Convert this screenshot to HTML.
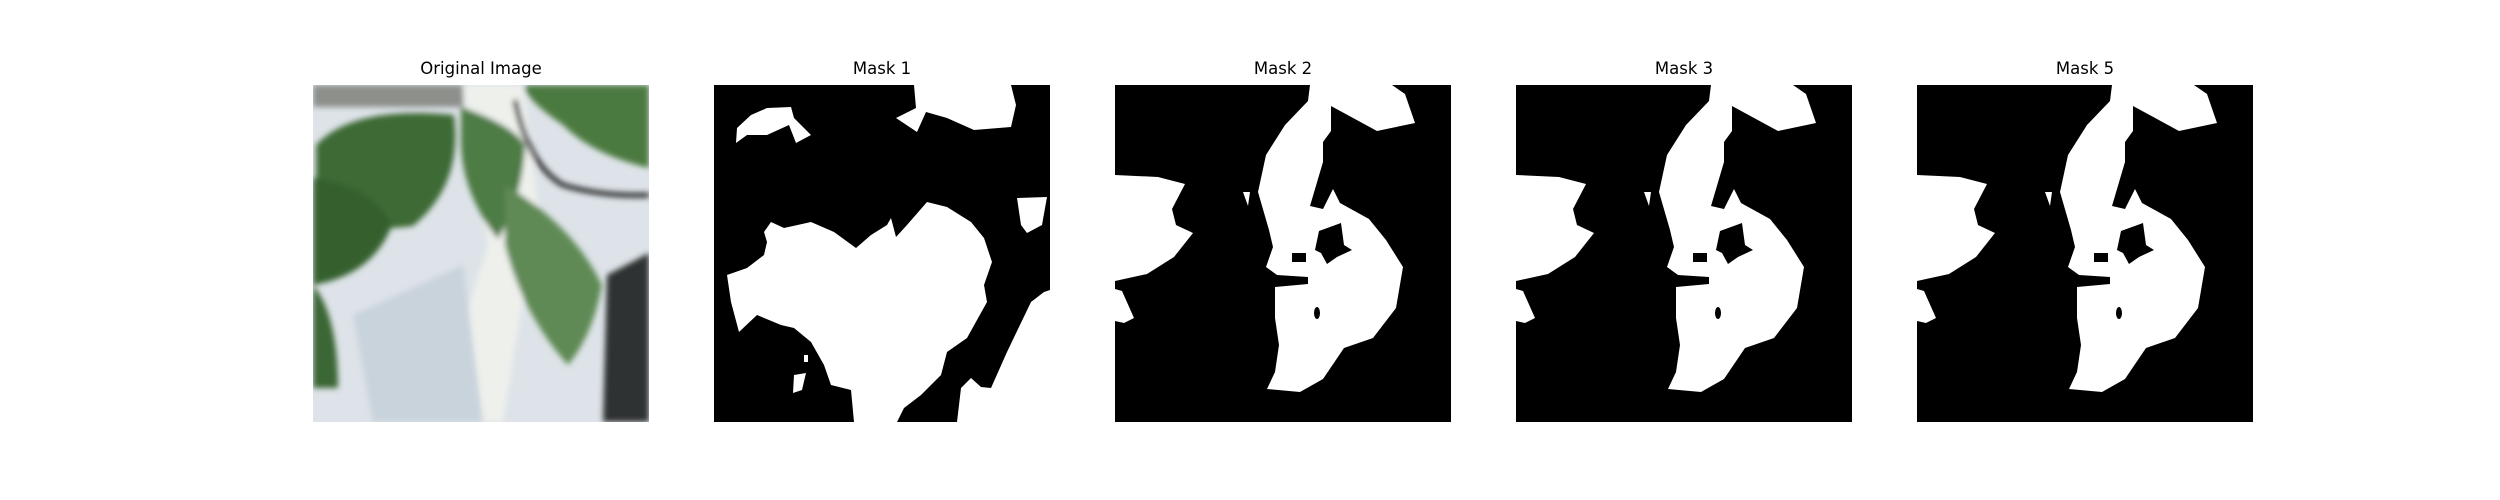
<!DOCTYPE html>
<html><head><meta charset="utf-8"><style>
html,body{margin:0;padding:0;background:#fff;width:2500px;height:500px;overflow:hidden}
.t{position:absolute;top:59px;width:336px;text-align:center;font:16.5px "DejaVu Sans","Liberation Sans",sans-serif;color:#000}
svg.p{position:absolute;top:85px;width:336px;height:337px}
</style></head><body>
<div class="t" style="left:313px">Original Image</div>
<div class="t" style="left:714px">Mask 1</div>
<div class="t" style="left:1115px">Mask 2</div>
<div class="t" style="left:1516px">Mask 3</div>
<div class="t" style="left:1917px">Mask 5</div>

<svg class="p" style="left:313px" viewBox="0 0 336 337">
<defs><filter id="b" x="-10%" y="-10%" width="120%" height="120%"><feGaussianBlur stdDeviation="3"/></filter>
<clipPath id="c"><rect width="336" height="337"/></clipPath></defs>
<g clip-path="url(#c)">
<rect width="336" height="337" fill="#dde3e8"/>
<g filter="url(#b)">
<rect x="0" y="0" width="150" height="22" fill="#8c8f8a"/>
<path d="M150 0 L210 0 L225 120 L190 337 L120 337 L175 160Z" fill="#eef0ec"/>
<path d="M40 230 L150 180 L170 337 L60 337Z" fill="#c9d3dc"/>
<path d="M294 190 L336 168 L336 337 L290 337Z" fill="#2f3330"/>
<path d="M3 60 Q40 20 141 30 Q150 100 100 141 Q40 150 3 120Z" fill="#3d6a35"/>
<path d="M0 93 Q60 100 79 140 Q60 190 0 200Z" fill="#34602f"/>
<path d="M0 200 Q25 230 25 303 L0 303Z" fill="#3a6634"/>
<path d="M148 22 Q200 40 212 60 Q210 110 185 154 Q150 110 148 60Z" fill="#4e7b45"/>
<path d="M192 100 Q260 140 289 200 Q280 250 255 280 Q210 230 192 160Z" fill="#5f8a55"/>
<path d="M212 0 L336 0 L336 83 Q280 70 250 40 Q220 20 212 5Z" fill="#4c7a40"/>
<path d="M202 15 Q215 80 250 100 Q290 112 336 110" stroke="#2a2a2a" stroke-width="5" fill="none"/>
</g></g>
</svg>

<svg class="p" style="left:714px" viewBox="0 0 336 337">
<rect width="336" height="337" fill="#000"/>
<g fill="#fff">
<path d="M22 58 L23 43 L37 30 L53 23 L77 22 L80 33 L97 50 L82 58 L75 40 L53 50 L33 50Z"/>
<path d="M200 0 L202 23 L182 33 L203 47 L212 27 L233 33 L260 45 L297 42 L302 20 L297 0Z"/>
<path d="M303 113 L333 112 L328 140 L313 148 L307 140Z"/>
<path d="M50 147 L57 137 L70 143 L97 137 L120 147 L142 163 L157 150 L173 140 L177 133 L182 152 L193 140 L213 117 L233 122 L257 137 L270 153 L278 177 L270 200 L273 217 L253 253 L233 267 L227 290 L207 310 L190 323 L183 337 L140 337 L137 305 L117 300 L110 280 L97 257 L80 243 L67 240 L43 230 L25 247 L17 217 L13 190 L33 183 L50 170 L53 157Z"/>
<path d="M336 205 L330 207 L317 217 L293 267 L277 303 L267 302 L257 293 L247 303 L243 337 L336 337Z"/>
<path d="M90 270 L94 270 L94 277 L90 277Z M80 290 L92 288 L88 305 L79 308Z"/>
</g>
</svg>

<svg width="0" height="0" style="position:absolute"><defs>
<g id="m">
<rect width="336" height="337" fill="#000"/>
<g fill="#fff">
<path d="M0 90 L43 92 L70 99 L57 124 L61 140 L78 148 L59 172 L32 189 L0 196Z"/>
<path d="M0 204 L7 206 L19 233 L9 238 L0 236Z"/>
<path d="M128 107 L135 107 L133 121Z"/>
<path fill-rule="evenodd" d="M195 0 L277 0 L290 9 L300 38 L262 46 L216 21 L216 46 L208 57 L208 77 L195 121 L208 124 L218 104 L225 118 L254 134 L271 155 L288 182 L281 223 L258 253 L229 263 L208 294 L185 307 L152 304 L160 287 L164 260 L160 233 L160 202 L193 199 L193 192 L162 190 L151 182 L158 162 L154 145 L143 107 L151 70 L170 40 L193 16Z
M177 168 L191 168 L191 177 L177 177Z M204 146 L226 138 L229 160 L237 165 L222 172 L212 179 L206 168 L200 165Z M199 228 a3 6 0 1 0 6 0 a3 6 0 1 0 -6 0Z"/>
</g>
</g></defs></svg>

<svg class="p" style="left:1115px" viewBox="0 0 336 337"><use href="#m"/></svg>
<svg class="p" style="left:1516px" viewBox="0 0 336 337"><use href="#m"/></svg>
<svg class="p" style="left:1917px" viewBox="0 0 336 337"><use href="#m"/></svg>
</body></html>
